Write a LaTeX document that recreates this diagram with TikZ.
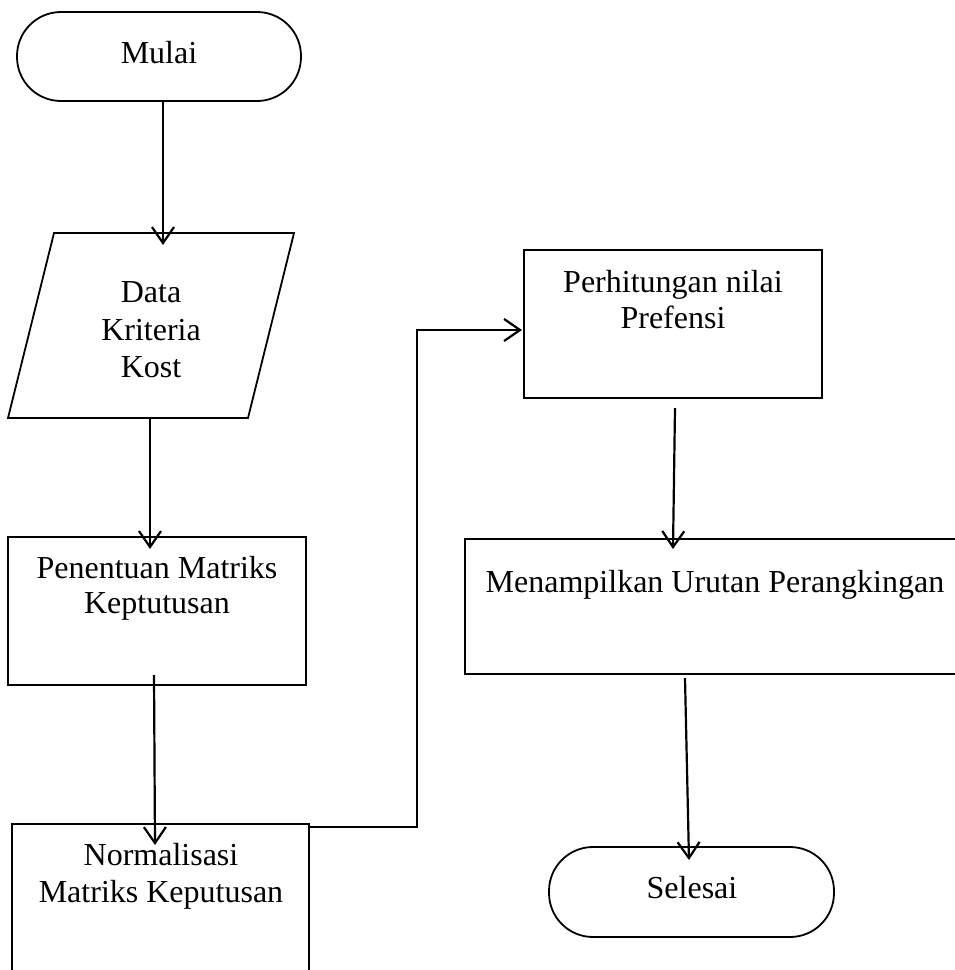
\documentclass[tikz,border=0pt]{standalone}
\usepackage{fontspec}
\setmainfont{Liberation Serif}
\usetikzlibrary{arrows.meta}
\begin{document}
\begin{tikzpicture}[x=1pt,y=-1pt,
  box/.style={draw, line width=1.8pt, inner sep=0pt, outer sep=0pt},
  term/.style={box, rounded corners=44pt},
  lbl/.style={font=\fontsize{32}{37}\selectfont, anchor=base, inner sep=0pt},
  flow/.style={line width=2.2pt, -{Straight Barb[length=16pt,width=22pt,line width=2.2pt]}}]
\useasboundingbox (0,0) rectangle (955,970);
\fill[white] (0,0) rectangle (955,970);
\clip (0,0) rectangle (955,970);

% shapes
\node[term, minimum width=284pt, minimum height=89pt] (mulai) at (159,56.5) {};
\draw[line width=1.8pt] (54,233) -- (294,233) -- (248,418) -- (8,418) -- cycle;
\coordinate (dataIn) at (163,245);
\coordinate (dataOut) at (150,418);
\node[box, minimum width=298pt, minimum height=148pt] (penentuan) at (157,611) {};
\node[box, minimum width=297pt, minimum height=200pt] (normal) at (160.5,924) {};
\node[box, minimum width=298pt, minimum height=148pt] (hitung) at (673,324) {};
\node[box, minimum width=520pt, minimum height=135pt] (tampil) at (725,606.5) {};
\node[term, minimum width=285pt, minimum height=90pt] (selesai) at (691.5,892) {};

% labels
\node[lbl] (tMulai) at (159,63) {Mulai};
\node[lbl] (tData1) at (151,302) {Data};
\node[lbl] (tData2) at (151,340) {Kriteria};
\node[lbl] (tData3) at (151,377) {Kost};
\node[lbl] (tPen1) at (157,578) {Penentuan Matriks};
\node[lbl] (tPen2) at (157,613) {Keptutusan};
\node[lbl] (tNor1) at (161,865) {Normalisasi};
\node[lbl] (tNor2) at (161,902) {Matriks Keputusan};
\node[lbl] (tHit1) at (673,292) {Perhitungan nilai};
\node[lbl] (tHit2) at (673,328) {Prefensi};
\node[lbl] (tTam) at (715,592) {Menampilkan Urutan Perangkingan};
\node[lbl] (tSel) at (692,898) {Selesai};

% connector end points
\coordinate (c1s) at (163,101);
\coordinate (c2e) at (150,549);
\coordinate (c3s) at (154,675);
\coordinate (c3e) at (155,845);
\coordinate (c4s) at (309,827);
\coordinate (c4a) at (417,827);
\coordinate (c4b) at (417,330);
\coordinate (c4e) at (522,330);
\coordinate (c5s) at (675,408);
\coordinate (c5e) at (673,549);
\coordinate (c6s) at (685,678);
\coordinate (c6e) at (689,860);

% connectors
\draw[flow] (c1s) -- (dataIn);
\draw[flow] (dataOut) -- (c2e);
\draw[flow] (c3s) -- (c3e);
\draw[flow] (c4s) -- (c4a) -- (c4b) -- (c4e);
\draw[flow] (c5s) -- (c5e);
\draw[flow] (c6s) -- (c6e);
\end{tikzpicture}
\end{document}
